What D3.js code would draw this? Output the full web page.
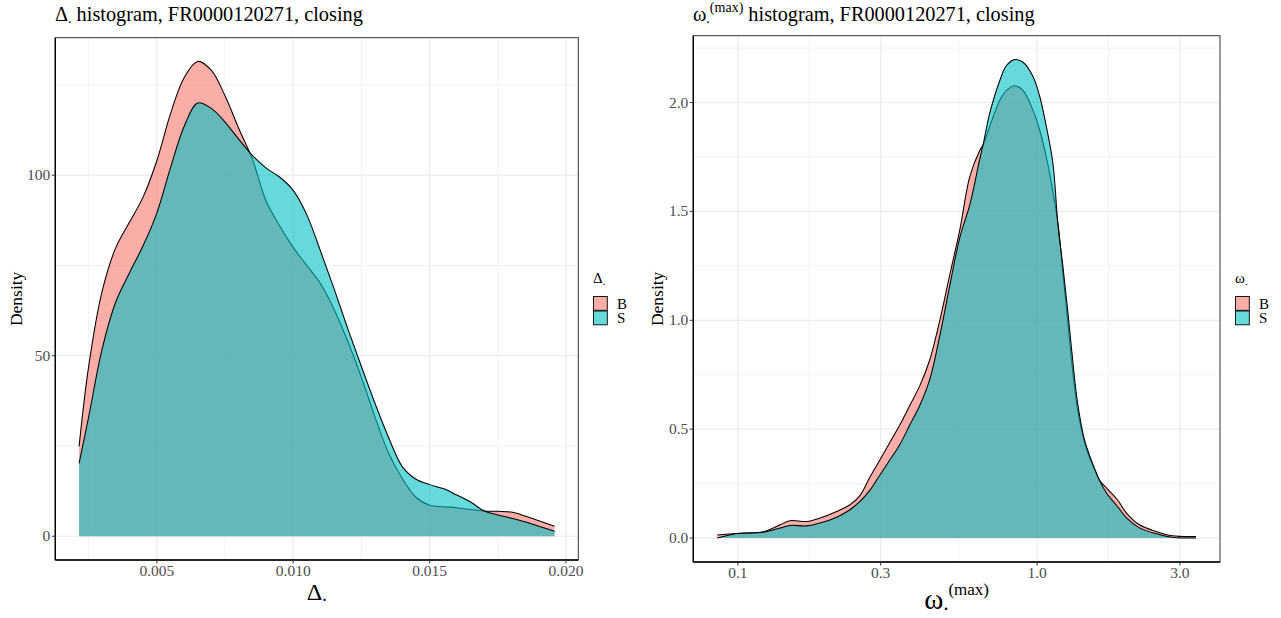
<!DOCTYPE html>
<html><head><meta charset="utf-8">
<script src="https://cdn.jsdelivr.net/npm/d3@7/dist/d3.min.js"></script>
<style>body{margin:0;background:#fff}svg{display:block}</style>
</head><body>
<svg id="chart" width="1281" height="618"></svg>
<script>
// ---------- data ----------
const groups = ["B", "S"];
const groupColors = ["#F8766D", "#00BFC4"];

// Left panel: density of Delta
const deltaX = [0.00215,0.0025,0.003,0.0035,0.004,0.0045,0.005,0.0055,0.006,0.0065,0.007,0.0075,0.008,0.0085,0.009,0.0095,0.010,0.0105,0.011,0.0115,0.012,0.0125,0.013,0.0135,0.014,0.0145,0.015,0.0155,0.016,0.0165,0.017,0.0175,0.018,0.0185,0.019,0.01958];
const deltaB = [24.9,47,68,80,87,94,104,117,127,131.5,129,122,113,104.5,93,86,80,75,70,62.8,54,44,33,23,16,10.8,8.6,8.2,7.9,7.4,7.0,6.9,6.7,5.6,4.3,2.8];
const deltaS = [20.2,33,52,65,73,80.5,89.5,102,113.5,120,118.5,114.7,110,105.5,102,99.5,95.8,89,79,68.5,57.5,47,36.8,27.3,19.3,15.8,14.3,13.2,11.4,9.5,7.0,5.9,5.0,4.0,2.8,1.4];
const deltaXTicks = [0.005, 0.010, 0.015, 0.020];
const deltaXTickLabels = ["0.005", "0.010", "0.015", "0.020"];
const deltaYTicks = [0, 50, 100];
const deltaYTickLabels = ["0", "50", "100"];

// Right panel: density of omega (max), log x axis
const omegaX = [0.0853,0.0992,0.1217,0.1384,0.1494,0.1699,0.1881,0.2139,0.2368,0.2558,0.2762,0.2983,0.3221,0.3478,0.3755,0.4056,0.4379,0.4729,0.5106,0.5514,0.5954,0.6429,0.6595,0.6941,0.7498,0.7897,0.8414,0.8967,0.9683,1.0193,1.0733,1.129,1.1749,1.2164,1.264,1.3137,1.3652,1.44,1.4965,1.5553,1.6163,1.7185,1.8556,1.988,2.1976,2.5034,2.8313,3.3963];
const omegaB = [0.014,0.021,0.029,0.061,0.08,0.076,0.092,0.122,0.153,0.195,0.28,0.36,0.44,0.52,0.61,0.70,0.82,1.0,1.21,1.415,1.66,1.78,1.805,1.89,2.01,2.056,2.077,2.056,1.965,1.875,1.75,1.59,1.44,1.23,1.0,0.77,0.59,0.44,0.37,0.315,0.265,0.225,0.176,0.115,0.061,0.030,0.0106,0.007];
const omegaS = [0.0,0.021,0.027,0.046,0.058,0.056,0.069,0.096,0.13,0.168,0.22,0.29,0.36,0.43,0.52,0.61,0.73,0.93,1.16,1.38,1.53,1.74,1.805,1.95,2.10,2.17,2.197,2.185,2.12,2.03,1.89,1.72,1.43,1.26,1.05,0.82,0.62,0.45,0.38,0.32,0.265,0.20,0.145,0.093,0.047,0.02,0.004,0.0];
const omegaXTicks = [0.1, 0.3, 1.0, 3.0];
const omegaXTickLabels = ["0.1", "0.3", "1.0", "3.0"];
const omegaYTicks = [0, 0.5, 1.0, 1.5, 2.0];
const omegaYTickLabels = ["0.0", "0.5", "1.0", "1.5", "2.0"];

// ---------- drawing ----------
const svg = d3.select("#chart");
const SERIF = "'Liberation Serif', 'Times New Roman', serif";
const FILL_ALPHA = 0.6;

function minorBreaks(majors, lo, hi) {
  const out = [];
  for (let i = 0; i < majors.length - 1; i++) out.push((majors[i] + majors[i + 1]) / 2);
  const first = majors[0] - (majors[1] - majors[0]) / 2;
  const last = majors[majors.length - 1] + (majors[majors.length - 1] - majors[majors.length - 2]) / 2;
  if (first >= lo) out.unshift(first);
  if (last <= hi) out.push(last);
  return out;
}

function drawPanel(cfg) {
  const g = svg.append("g");
  const {left, right, top, bottom} = cfg.box;
  const isLog = cfg.log;
  const tf = isLog ? Math.log10 : (v => v);
  const xt = cfg.xs.map(tf);
  const xmin = d3.min(xt), xmax = d3.max(xt), xpad = (xmax - xmin) * 0.05;
  const ymax = d3.max(cfg.series.flat());
  const x = isLog
    ? d3.scaleLog().domain([Math.pow(10, xmin - xpad), Math.pow(10, xmax + xpad)]).range([left, right])
    : d3.scaleLinear().domain([xmin - xpad, xmax + xpad]).range([left, right]);
  const y = d3.scaleLinear().domain([-0.05 * ymax, 1.05 * ymax]).range([bottom, top]);

  // grid
  const ydom = y.domain();
  const yMinor = minorBreaks(cfg.yTicks, ydom[0], ydom[1]);
  const xMajT = cfg.xTicks.map(tf);
  const xMinorT = minorBreaks(xMajT, xmin - xpad, xmax + xpad);
  const xMinor = xMinorT.map(v => isLog ? Math.pow(10, v) : v);

  const grid = g.append("g");
  grid.selectAll(".ymin").data(yMinor).join("line")
    .attr("x1", left).attr("x2", right).attr("y1", d => y(d)).attr("y2", d => y(d))
    .attr("stroke", "#F0F0F0").attr("stroke-width", 0.9);
  grid.selectAll(".xmin").data(xMinor).join("line")
    .attr("y1", top).attr("y2", bottom).attr("x1", d => x(d)).attr("x2", d => x(d))
    .attr("stroke", "#F0F0F0").attr("stroke-width", 0.9);
  grid.selectAll(".ymaj").data(cfg.yTicks).join("line")
    .attr("x1", left).attr("x2", right).attr("y1", d => y(d)).attr("y2", d => y(d))
    .attr("stroke", "#EBEBEB").attr("stroke-width", 1.2);
  grid.selectAll(".xmaj").data(cfg.xTicks).join("line")
    .attr("y1", top).attr("y2", bottom).attr("x1", d => x(d)).attr("x2", d => x(d))
    .attr("stroke", "#EBEBEB").attr("stroke-width", 1.2);

  // densities
  const curve = d3.curveCatmullRom.alpha(0.5);
  const area = d3.area().x(d => x(d[0])).y0(y(0)).y1(d => y(d[1])).curve(curve);
  const line = d3.line().x(d => x(d[0])).y(d => y(d[1])).curve(curve);
  cfg.series.forEach((vals, i) => {
    const pts = cfg.xs.map((xv, k) => [xv, vals[k]]);
    g.append("path").attr("d", area(pts)).attr("fill", groupColors[i]).attr("fill-opacity", FILL_ALPHA);
    g.append("path").attr("d", line(pts)).attr("fill", "none").attr("stroke", "#000").attr("stroke-width", 1.05);
  });

  // border + axes
  g.append("rect").attr("x", left).attr("y", top).attr("width", right - left).attr("height", bottom - top)
    .attr("fill", "none").attr("stroke", "#333").attr("stroke-width", 1);
  g.append("line").attr("x1", left).attr("x2", left).attr("y1", top).attr("y2", bottom)
    .attr("stroke", "#000").attr("stroke-width", 1.4);
  g.append("line").attr("x1", left).attr("x2", right).attr("y1", bottom).attr("y2", bottom)
    .attr("stroke", "#000").attr("stroke-width", 1.4);

  // ticks
  const xa = g.append("g");
  cfg.xTicks.forEach((t, i) => {
    xa.append("line").attr("x1", x(t)).attr("x2", x(t)).attr("y1", bottom).attr("y2", bottom + 3.5)
      .attr("stroke", "#333").attr("stroke-width", 1);
    xa.append("text").attr("x", x(t)).attr("y", bottom + 15.5).attr("text-anchor", "middle")
      .attr("font-family", SERIF).attr("font-size", 15.5).attr("fill", "#4D4D4D").text(cfg.xTickLabels[i]);
  });
  cfg.yTicks.forEach((t, i) => {
    xa.append("line").attr("x1", left - 3.5).attr("x2", left).attr("y1", y(t)).attr("y2", y(t))
      .attr("stroke", "#333").attr("stroke-width", 1);
    xa.append("text").attr("x", left - 5).attr("y", y(t) + 5).attr("text-anchor", "end")
      .attr("font-family", SERIF).attr("font-size", 15.5).attr("fill", "#4D4D4D").text(cfg.yTickLabels[i]);
  });

  // y title
  g.append("text").attr("transform", `translate(${cfg.yTitleX},${(top + bottom) / 2}) rotate(-90)`)
    .attr("text-anchor", "middle").attr("font-family", SERIF).attr("font-size", 17.5).attr("fill", "#000")
    .text("Density");

  // legend
  const lg = g.append("g").attr("transform", `translate(${cfg.legendX},0)`);
  const lt = lg.append("text").attr("x", 0).attr("y", 283).attr("font-family", SERIF).attr("font-size", 15);
  lt.append("tspan").text(cfg.sym);
  lt.append("tspan").attr("dy", 2).attr("font-size", 11).text(".");
  groups.forEach((grp, i) => {
    const ky = 296.5 + i * 14.5;
    lg.append("rect").attr("x", 0.5).attr("y", ky).attr("width", 13.8).attr("height", 13.8)
      .attr("fill", "#fff");
    lg.append("rect").attr("x", 0.5).attr("y", ky).attr("width", 13.8).attr("height", 13.8)
      .attr("fill", groupColors[i]).attr("fill-opacity", FILL_ALPHA).attr("stroke", "#000").attr("stroke-width", 0.9);
    lg.append("text").attr("x", 24).attr("y", ky + 12).attr("font-family", SERIF).attr("font-size", 15)
      .text(grp);
  });
  return {x, y};
}

drawPanel({
  box: {left: 55.3, right: 578.3, top: 37.7, bottom: 560},
  log: false, xs: deltaX, series: [deltaB, deltaS],
  xTicks: deltaXTicks, xTickLabels: deltaXTickLabels,
  yTicks: deltaYTicks, yTickLabels: deltaYTickLabels,
  yTitleX: 22, legendX: 593, sym: "Δ"
});
drawPanel({
  box: {left: 693.3, right: 1220, top: 35.7, bottom: 562},
  log: true, xs: omegaX, series: [omegaB, omegaS],
  xTicks: omegaXTicks, xTickLabels: omegaXTickLabels,
  yTicks: omegaYTicks, yTickLabels: omegaYTickLabels,
  yTitleX: 663, legendX: 1235, sym: "ω"
});

// titles
const t1 = svg.append("text").attr("x", 55).attr("y", 21).attr("font-family", SERIF).attr("font-size", 20.3);
t1.append("tspan").text("Δ");
t1.append("tspan").attr("dy", 2).attr("font-size", 14).text(".");
t1.append("tspan").attr("dy", -2).text(" histogram, FR0000120271, closing");

const t2 = svg.append("text").attr("x", 693).attr("y", 21).attr("font-family", SERIF).attr("font-size", 20.3);
t2.append("tspan").text("ω");
t2.append("tspan").attr("dy", 2).attr("font-size", 14).text(".");
t2.append("tspan").attr("dy", -11).attr("font-size", 14).text("(max)");
t2.append("tspan").attr("dy", 9).text(" histogram, FR0000120271, closing");

// x axis titles
const a1 = svg.append("text").attr("x", 316.8).attr("y", 600).attr("text-anchor", "middle")
  .attr("font-family", SERIF).attr("font-size", 24);
a1.append("tspan").text("Δ");
a1.append("tspan").attr("dy", 1).attr("font-size", 18).text(".");

const a2 = svg.append("text").attr("x", 956.7).attr("y", 609).attr("text-anchor", "middle")
  .attr("font-family", SERIF).attr("font-size", 29);
a2.append("tspan").text("ω");
a2.append("tspan").attr("dy", 1).attr("font-size", 20).text(".");
a2.append("tspan").attr("dy", -15).attr("font-size", 17).text("(max)");
</script>
</body></html>
